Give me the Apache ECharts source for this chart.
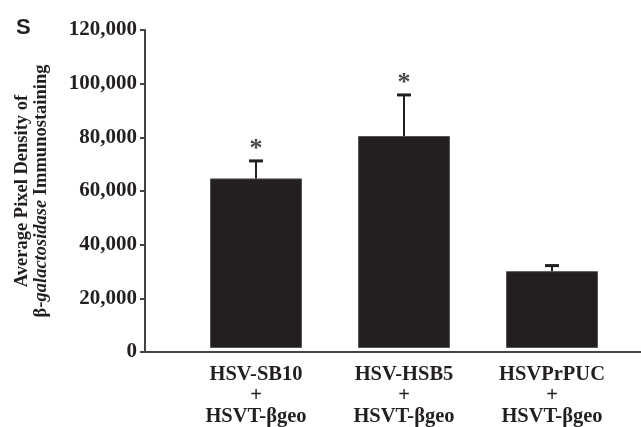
<!DOCTYPE html>
<html lang="en">
<head>
    <meta charset="UTF-8">
    <title>Pixel density</title>
    <style>
        *{ padding:0; margin:0; }
        html, body{ width:100%; height:100%; background:#fff; }
        #main{ width:641px; height:427px; }
    </style>
    <script src="https://cdn.jsdelivr.net/npm/echarts@6/dist/echarts.min.js"></script>
</head>
<body>
<div id="main"></div>
<script>
    var categories = ['HSV-SB10\n+\nHSVT-βgeo', 'HSV-HSB5\n+\nHSVT-βgeo', 'HSVPrPUC\n+\nHSVT-βgeo'];
    var means = [64000, 80000, 29000];
    var errors = [6600, 15500, 2100];
    var starred = [1, 1, 0];
    var yTicks = [0, 20000, 40000, 60000, 80000, 100000, 120000];

    var ink = '#231f20';
    var serif = '"Liberation Serif", "Times New Roman", serif';

    var errData = means.map(function (m, i) {
        return [i, m, errors[i], starred[i]];
    });

    var myChart = echarts.init(document.getElementById('main'));
    var option = {
        backgroundColor: '#fff',
        animation: false,
        title: {
            text: 'S',
            left: 11,
            top: 12,
            textStyle: { fontFamily: '"Liberation Sans", Arial, sans-serif', fontWeight: 'bold', fontSize: 22, color: ink }
        },
        grid: [
            { left: 182, right: 15, top: 30, bottom: 75 },
            { left: 145, right: 0, top: 30, bottom: 75 }
        ],
        xAxis: [{
            type: 'category',
            gridIndex: 0,
            data: categories,
            axisLine: { show: false },
            axisTick: { show: false },
            axisLabel: {
                interval: 0,
                margin: 16,
                fontFamily: serif,
                fontWeight: 'bold',
                fontSize: 20.5,
                lineHeight: 21,
                color: ink
            }
        }, {
            type: 'value',
            gridIndex: 1,
            min: 0,
            max: 1,
            axisLine: { show: true, lineStyle: { color: '#444', width: 2 } },
            axisTick: { show: false },
            axisLabel: { show: false },
            splitLine: { show: false }
        }],
        yAxis: [{
            type: 'value',
            gridIndex: 0,
            min: yTicks[0],
            max: yTicks[yTicks.length - 1],
            interval: 20000,
            show: false
        }, {
            type: 'value',
            gridIndex: 1,
            min: yTicks[0],
            max: yTicks[yTicks.length - 1],
            interval: 20000,
            name: '{a|Average Pixel Density of}\n{a|β-}{i|galactosidase}{a| Immunostaining}',
            nameLocation: 'middle',
            nameGap: 94,
            nameTextStyle: {
                rich: {
                    a: { fontFamily: serif, fontWeight: 'bold', fontSize: 18.5, color: ink, lineHeight: 19 },
                    i: { fontFamily: serif, fontWeight: 'bold', fontStyle: 'italic', fontSize: 18.5, color: ink, lineHeight: 19 }
                }
            },
            axisLine: { show: true, lineStyle: { color: '#444', width: 2 } },
            axisTick: { show: true, length: 5, lineStyle: { color: '#444', width: 2 } },
            splitLine: { show: false },
            axisLabel: {
                margin: 8,
                fontFamily: serif,
                fontWeight: 'bold',
                fontSize: 21,
                color: ink,
                formatter: function (v) { return v.toLocaleString('en-US'); }
            }
        }],
        series: [{
            type: 'bar',
            xAxisIndex: 0,
            yAxisIndex: 0,
            data: means,
            barWidth: 92,
            itemStyle: { color: ink, borderColor: '#555', borderWidth: 1 }
        }, {
            type: 'custom',
            xAxisIndex: 0,
            yAxisIndex: 0,
            data: errData,
            z: 3,
            renderItem: function (params, api) {
                var base = api.coord([api.value(0), api.value(1)]);
                var top = api.coord([api.value(0), api.value(1) + api.value(2)]);
                var children = [{
                    type: 'line',
                    shape: { x1: base[0], y1: base[1], x2: top[0], y2: top[1] },
                    style: { stroke: ink, lineWidth: 2 }
                }, {
                    type: 'line',
                    shape: { x1: top[0] - 7, y1: top[1], x2: top[0] + 7, y2: top[1] },
                    style: { stroke: ink, lineWidth: 3 }
                }];
                if (api.value(3)) {
                    children.push({
                        type: 'text',
                        x: top[0],
                        y: top[1] - 25,
                        style: {
                            text: '*',
                            fontFamily: serif,
                            fontWeight: 'bold',
                            fontSize: 26,
                            fill: '#444',
                            align: 'center',
                            verticalAlign: 'top'
                        }
                    });
                }
                return { type: 'group', children: children };
            }
        }]
    };
    myChart.setOption(option);
</script>
</body>
</html>
